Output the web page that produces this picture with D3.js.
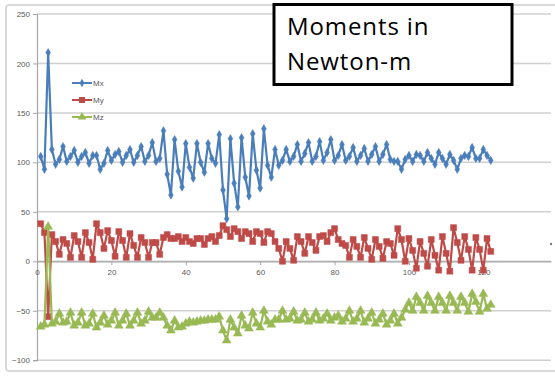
<!DOCTYPE html>
<html><head><meta charset="utf-8">
<script src="https://cdn.jsdelivr.net/npm/d3@7"></script>
<style>html,body{margin:0;padding:0;background:#fff;}svg{display:block;}</style>
</head><body>
<svg id="c" width="555" height="381"></svg>
<script>
const seriesNames = ["Mx","My","Mz"];
const mx = [106,93,211,113,98,103,116,101,106,112,
100,106,110,99,107,107,93,99,112,102,
108,111,100,107,113,100,107,116,101,107,
120,101,104,132,88,67,123,91,75,119,
95,84,119,100,90,119,104,99,128,72,
43,124,79,55,125,85,66,129,92,74,
134,97,85,113,97,102,113,101,106,118,
101,109,120,101,106,121,102,110,123,102,
107,118,102,106,115,101,107,114,101,108,
116,101,108,118,103,101,101,93,103,107,
101,108,107,101,110,104,98,110,104,98,
108,102,93,104,107,106,115,104,104,113,
107,102];
const my = [38,29,-56,27,20,7,22,18,4,26,
20,4,29,19,2,38,29,13,31,21,
5,30,21,4,28,16,4,24,19,4,
19,19,7,24,27,23,23,25,20,24,
20,18,23,23,17,23,25,20,26,36,
32,25,33,30,23,30,28,20,30,28,
19,30,28,20,13,0,20,13,1,25,
20,8,25,19,11,25,26,20,29,33,
22,18,16,4,22,15,4,24,13,2,
22,15,3,20,18,6,33,22,0,23,
11,-7,20,8,-5,22,6,-9,25,8,
-10,34,19,1,25,12,-9,24,12,-9,
23,10];
const mz = [-66,-64,35,-63,-61,-53,-62,-61,-52,-65,
-62,-52,-65,-63,-53,-67,-62,-55,-64,-60,
-52,-65,-60,-53,-65,-60,-52,-63,-60,-51,
-57,-57,-52,-57,-65,-70,-60,-67,-66,-63,
-61,-62,-61,-60,-60,-59,-59,-59,-56,-70,
-80,-59,-67,-73,-55,-65,-68,-52,-63,-67,
-50,-61,-64,-59,-59,-50,-59,-58,-51,-60,
-59,-52,-61,-59,-52,-60,-58,-53,-60,-57,
-55,-61,-58,-50,-61,-58,-50,-62,-58,-52,
-63,-59,-53,-64,-60,-53,-63,-57,-49,-42,
-50,-36,-42,-50,-35,-42,-50,-36,-42,-50,
-35,-42,-50,-36,-42,-51,-33,-41,-51,-33,
-48,-44];
const yTicks = [-100,-50,0,50,100,150,200,250];
const xTicks = [0,20,40,60,80,100,120];
const titleLines = ["Moments in","Newton-m"];

const colors = ["#4a7ebb","#be4b48","#98b954"];
const symbols = [d3.symbolDiamond, d3.symbolSquare, d3.symbolTriangle];
const symSizes = [20, 36, 34];

const svg = d3.select("#c");
const x = d3.scaleLinear().domain([0,138.2]).range([37,551]);
const y = d3.scaleLinear().domain([-100,250]).range([360.2,14]);

// outer chart frame
svg.append("rect").attr("x",6).attr("y",5).attr("width",560).attr("height",366)
  .attr("rx",3).attr("fill","#fff").attr("stroke","#d9d9d9").attr("stroke-width",2);

// gridlines
svg.append("g").selectAll("line").data(yTicks).join("line")
  .attr("x1",x(0)).attr("x2",x.range()[1])
  .attr("y1",d=>y(d)).attr("y2",d=>y(d))
  .attr("stroke","#d0d0d0").attr("stroke-width",1.5);

// y axis
const ya = svg.append("g").attr("transform",`translate(${x(0)},0)`)
  .call(d3.axisLeft(y).tickValues(yTicks).tickSize(4).tickPadding(3));
ya.select(".domain").attr("stroke","#a6a6a6").attr("stroke-width",1.2);
ya.selectAll(".tick line").attr("stroke","#a6a6a6");
ya.selectAll("text").attr("font-family","Liberation Sans, Arial, sans-serif").attr("font-size",8).attr("fill","#595959");

// x axis at y=0
const xa = svg.append("g").attr("transform",`translate(0,${y(0)})`)
  .call(d3.axisBottom(x).tickValues(xTicks).tickSize(4).tickPadding(4).tickSizeOuter(0));
xa.select(".domain").attr("stroke","#a6a6a6").attr("stroke-width",1.2);
xa.selectAll(".tick line").attr("stroke","#a6a6a6");
xa.selectAll("text").attr("font-family","Liberation Sans, Arial, sans-serif").attr("font-size",8).attr("fill","#595959");

const data = [mx,my,mz];
const line = d3.line().x((d,i)=>x(i+1)).y(d=>y(d));
data.forEach((s,k)=>{
  const g = svg.append("g");
  g.append("path").datum(s).attr("d",line).attr("fill","none")
    .attr("stroke",colors[k]).attr("stroke-width",2.2).attr("stroke-linejoin","round");
  g.selectAll("path.m").data(s).join("path").attr("class","m")
    .attr("transform",(d,i)=>`translate(${x(i+1)},${y(d)})`)
    .attr("d",d3.symbol().type(symbols[k]).size(symSizes[k]))
    .attr("fill",colors[k]).attr("stroke",colors[k]).attr("stroke-width",0.5);
});

// legend
const lg = svg.append("g").attr("transform","translate(72,83)");
seriesNames.forEach((n,k)=>{
  const r = lg.append("g").attr("transform",`translate(0,${k*17})`);
  r.append("line").attr("x1",0).attr("x2",20).attr("y1",0).attr("y2",0)
    .attr("stroke",colors[k]).attr("stroke-width",2);
  r.append("path").attr("transform","translate(10,0)")
    .attr("d",d3.symbol().type(symbols[k]).size(symSizes[k])).attr("fill",colors[k]);
  r.append("text").attr("x",21).attr("y",3).text(n)
    .attr("font-family","Liberation Sans, Arial, sans-serif").attr("font-size",8).attr("fill","#595959");
});

// title box
svg.append("rect").attr("x",274).attr("y",4.5).attr("width",238).attr("height",80)
  .attr("fill","#fff").attr("stroke","#000").attr("stroke-width",3);
svg.append("g").selectAll("text").data(titleLines).join("text")
  .attr("x",287).attr("y",(d,i)=>35+i*35).text(d=>d)
  .attr("font-family","Open Sans, sans-serif").attr("font-size",24)
  .attr("letter-spacing",0.9).attr("fill","#000");

// small stray marker at right edge
svg.append("circle").attr("cx",551).attr("cy",244).attr("r",1.2).attr("fill","#7f7f7f");
</script>
</body></html>
